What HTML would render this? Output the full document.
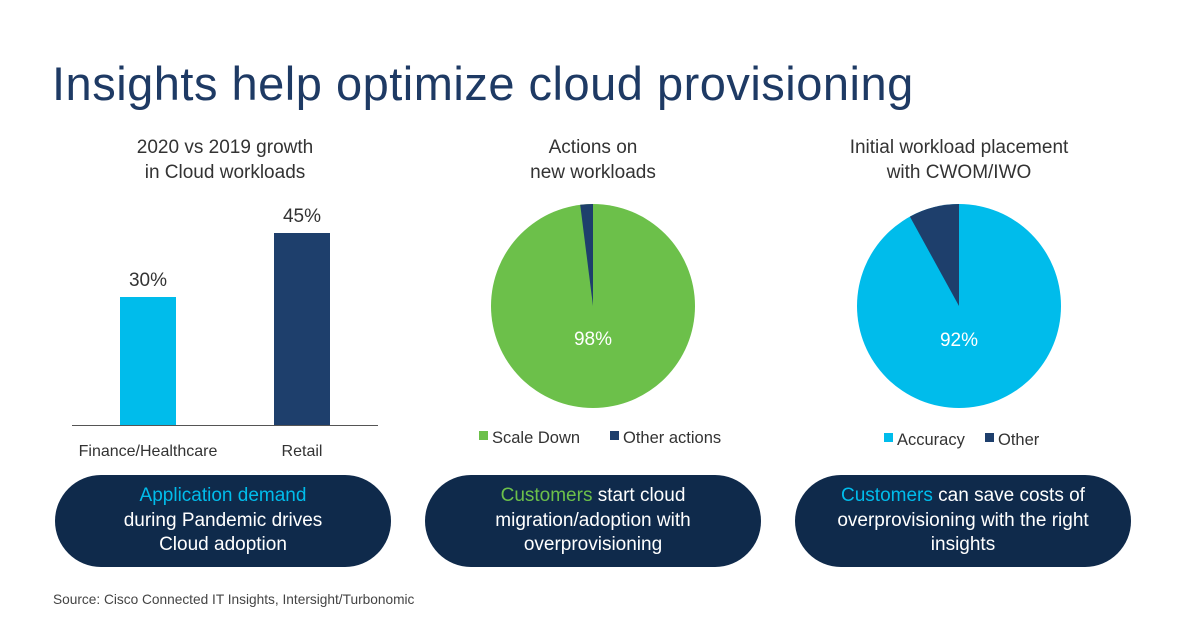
<!DOCTYPE html>
<html><head><meta charset="utf-8"><style>
body{margin:0;width:1190px;height:625px;background:#fff;font-family:"Liberation Sans",sans-serif;position:relative;overflow:hidden}
.a{position:absolute;white-space:nowrap}
.pill{position:absolute;top:475px;height:92px;width:336px;border-radius:46px;background:#0f2a4b;color:#fff;font-size:19px;line-height:24.5px;text-align:center;display:flex;align-items:center;justify-content:center}
.hl-b{color:#00bceb}.hl-g{color:#6cc04a}
.h{font-size:19px;color:#333;text-align:center;line-height:25px}
</style></head><body>
<div class="a" style="left:52px;top:56px;font-size:47px;color:#1e3a64;letter-spacing:0.5px">Insights help optimize cloud provisioning</div>
<div class="a h" style="left:75px;width:300px;top:135px">2020 vs 2019 growth<br>in Cloud workloads</div>
<div class="a h" style="left:443px;width:300px;top:135px">Actions on<br>new workloads</div>
<div class="a h" style="left:804px;width:310px;top:135px">Initial workload placement<br>with CWOM/IWO</div>
<svg class="a" style="left:0;top:0" width="1190" height="625">
<rect x="120" y="297" width="56" height="128" fill="#00bceb"/>
<rect x="274" y="233" width="56" height="192" fill="#1e3f6c"/>
<line x1="72" y1="425.5" x2="378" y2="425.5" stroke="#555" stroke-width="1"/>
<text x="148" y="286" font-size="19" fill="#333" text-anchor="middle" font-family="Liberation Sans">30%</text>
<text x="302" y="222" font-size="19" fill="#333" text-anchor="middle" font-family="Liberation Sans">45%</text>
<text x="148" y="456" font-size="16" fill="#333" text-anchor="middle" font-family="Liberation Sans">Finance/Healthcare</text>
<text x="302" y="456" font-size="16" fill="#333" text-anchor="middle" font-family="Liberation Sans">Retail</text>
<circle cx="593" cy="306" r="102" fill="#6cc04a"/>
<path d="M593 306 L580.2 204.8 A102 102 0 0 1 593 204 Z" fill="#1e3f6c"/>
<text x="593" y="345" font-size="19" fill="#fff" text-anchor="middle" font-family="Liberation Sans">98%</text>
<circle cx="959" cy="306" r="102" fill="#00bceb"/>
<path d="M959 306 L909.9 216.6 A102 102 0 0 1 959 204 Z" fill="#1e3f6c"/>
<text x="959" y="346" font-size="19" fill="#fff" text-anchor="middle" font-family="Liberation Sans">92%</text>
<rect x="479" y="431" width="9" height="9" fill="#6cc04a"/>
<text x="492" y="443" font-size="16.5" fill="#333" font-family="Liberation Sans">Scale Down</text>
<rect x="610" y="431" width="9" height="9" fill="#1e3f6c"/>
<text x="623" y="443" font-size="16.5" fill="#333" font-family="Liberation Sans">Other actions</text>
<rect x="884" y="433" width="9" height="9" fill="#00bceb"/>
<text x="897" y="445" font-size="16.5" fill="#333" font-family="Liberation Sans">Accuracy</text>
<rect x="985" y="433" width="9" height="9" fill="#1e3f6c"/>
<text x="998" y="445" font-size="16.5" fill="#333" font-family="Liberation Sans">Other</text>
</svg>
<div class="pill" style="left:55px"><div><span class="hl-b">Application demand</span><br>during Pandemic drives<br>Cloud adoption</div></div>
<div class="pill" style="left:425px"><div><span class="hl-g">Customers</span> start cloud<br>migration/adoption with<br>overprovisioning</div></div>
<div class="pill" style="left:795px"><div><span class="hl-b">Customers</span> can save costs of<br>overprovisioning with the right<br>insights</div></div>
<div class="a" style="left:53px;top:592px;font-size:13.7px;color:#444">Source: Cisco Connected IT Insights, Intersight/Turbonomic</div>
</body></html>
